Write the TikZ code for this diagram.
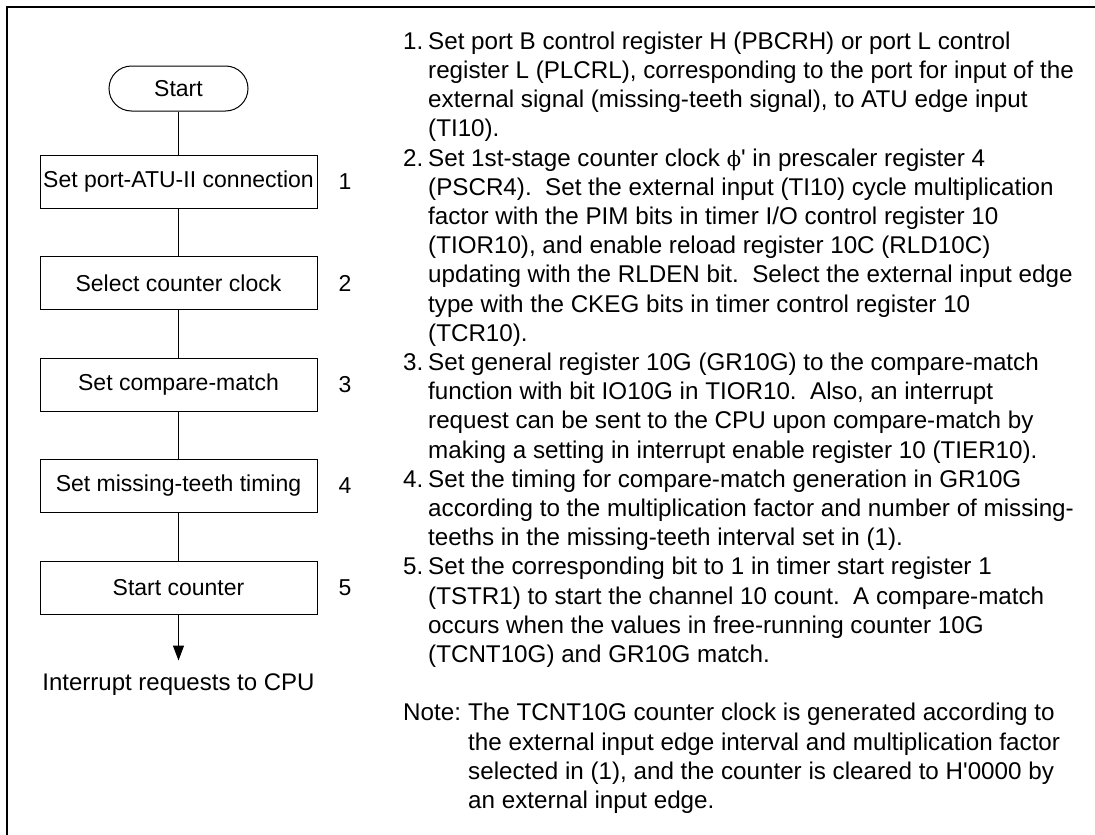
\documentclass[tikz,border=0pt]{standalone}
\usepackage{fontspec}
\setmainfont{Liberation Sans}
\newfontfamily\greekfont{DejaVu Serif}
\usetikzlibrary{arrows.meta,positioning}

\begin{document}
\begin{tikzpicture}[x=1pt,y=-1pt,>={Triangle[width=11pt,length=15pt]},
  box/.style={draw,line width=1pt,minimum width=277pt,minimum height=53pt,
    inner sep=0pt,font=\fontsize{23}{27}\selectfont},
  term/.style={box,minimum width=139pt,minimum height=45pt,rounded corners=22.5pt},
  num/.style={inner sep=0pt,font=\fontsize{23}{27}\selectfont},
  txt/.style={anchor=north west,inner sep=0pt,font=\fontsize{24.2}{29.2}\selectfont},
  link/.style={line width=1pt},
  node distance=47.5pt]
  \useasboundingbox (0,0) rectangle (1095,835);
  \draw[line width=2.2pt] (7,835) -- (7,7) -- (1095,7);

  % flow
  \node[term] (start) at (178.5,88.5) {Start};
  \node[box,below=43pt of start] (b1) {Set port-ATU-II connection};
  \node[box,below=of b1] (b2) {Select counter clock};
  \node[box,below=of b2] (b3) {Set compare-match};
  \node[box,below=of b3] (b4) {Set missing-teeth timing};
  \node[box,below=of b4] (b5) {Start counter};
  \coordinate[below=46pt of b5] (irq);
  \node[num,font=\fontsize{24}{27}\selectfont,below=13pt of irq] (cpu) {Interrupt requests to CPU};

  \node[num,right=21pt of b1] (n1) {1};
  \node[num,right=21pt of b2] (n2) {2};
  \node[num,right=21pt of b3] (n3) {3};
  \node[num,right=21pt of b4] (n4) {4};
  \node[num,right=21pt of b5] (n5) {5};

  \draw[link] (start) -- (b1);
  \draw[link] (b1) -- (b2);
  \draw[link] (b2) -- (b3);
  \draw[link] (b3) -- (b4);
  \draw[link] (b4) -- (b5);
  \draw[link,->] (b5) -- (irq);

  % explanations
  \node[txt] (steps) at (403,28.6) {\begin{tabular}{@{}p{25pt}@{}l@{}}
    1. & Set port B control register H (PBCRH) or port L control\\
       & register L (PLCRL), corresponding to the port for input of the\\
       & external signal (missing-teeth signal), to ATU edge input\\
       & (TI10).\\
    2. & Set 1st-stage counter clock {\greekfont\fontsize{21}{29.2}\selectfont ϕ}\textquotesingle{} in prescaler register 4\\
       & (PSCR4).\ \ Set the external input (TI10) cycle multiplication\\
       & factor with the PIM bits in timer I/O control register 10\\
       & (TIOR10), and enable reload register 10C (RLD10C)\\
       & updating with the RLDEN bit.\ \ Select the external input edge\\
       & type with the CKEG bits in timer control register 10\\
       & (TCR10).\\
    3. & Set general register 10G (GR10G) to the compare-match\\
       & function with bit IO10G in TIOR10.\ \ Also, an interrupt\\
       & request can be sent to the CPU upon compare-match by\\
       & making a setting in interrupt enable register 10 (TIER10).\\
    4. & Set the timing for compare-match generation in GR10G\\
       & according to the multiplication factor and number of missing-\\
       & teeths in the missing-teeth interval set in (1).\\
    5. & Set the corresponding bit to 1 in timer start register 1\\
       & (TSTR1) to start the channel 10 count.\ \ A compare-match\\
       & occurs when the values in free-running counter 10G\\
       & (TCNT10G) and GR10G match.
  \end{tabular}};
  \node[txt] (note) at (403,700.2) {\begin{tabular}{@{}p{65pt}@{}l@{}}
    Note: & The TCNT10G counter clock is generated according to\\
          & the external input edge interval and multiplication factor\\
          & selected in (1), and the counter is cleared to H\textquotesingle 0000 by\\
          & an external input edge.
  \end{tabular}};
\end{tikzpicture}
\end{document}
